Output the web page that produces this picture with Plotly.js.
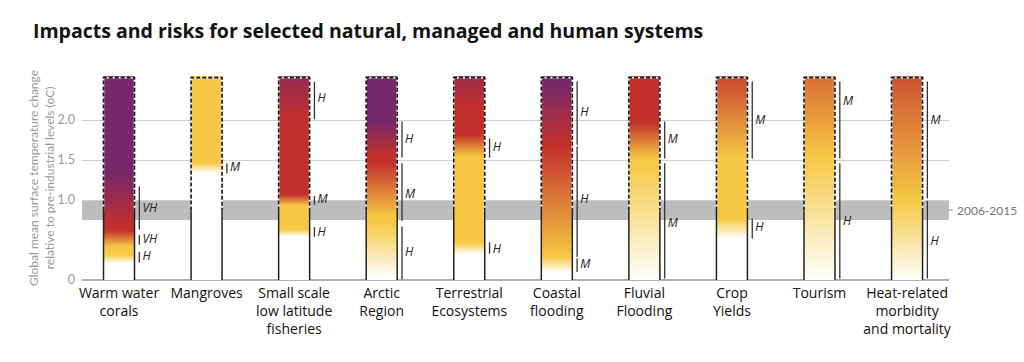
<!DOCTYPE html>
<html>
<head>
<meta charset="utf-8">
<script src="https://cdn.plot.ly/plotly-3.0.1.min.js"></script>
<style>html,body{margin:0;padding:0;background:#fff;}#chart{width:1024px;height:362px;}</style>
</head>
<body>
<div id="chart"></div>
<script>
// ---- Data ----
const systems = ['Warm water<br>corals', 'Mangroves', 'Small scale<br>low latitude<br>fisheries', 'Arctic<br>Region',
  'Terrestrial<br>Ecosystems', 'Coastal<br>flooding', 'Fluvial<br>Flooding', 'Crop<br>Yields', 'Tourism',
  'Heat-related<br>morbidity<br>and mortality'];

// Risk level along temperature: 0 undetectable (white), 1 moderate (yellow), 2 high (red), 3 very high (purple)
const riskStopTemps = [
  [0, 0.21, 0.32, 0.42, 0.62, 0.68, 1.35, 2.6],
  [0, 1.34, 1.47, 2.6],
  [0, 0.55, 0.64, 0.94, 1.08, 2.0, 2.6],
  [0, 0.02, 0.72, 0.8, 1.48, 1.55, 2.0, 2.6],
  [0, 0.33, 0.47, 1.55, 1.82, 2.15, 2.6],
  [0, 0.1, 0.3, 1.68, 1.72, 2.48, 2.6],
  [0, 1.46, 1.52, 1.98, 2.6],
  [0, 0.52, 0.77, 1.52, 2.6],
  [0, 1.55, 2.6],
  [0, 1.0, 2.6]
];
const riskStopLevels = [
  [0, 0, 1, 1, 2, 2, 3, 3],
  [0, 0, 1, 1],
  [0, 0, 1, 1, 2, 2, 2.65],
  [0, 0, 1, 1, 2, 2, 3, 3],
  [0, 0, 1, 1, 2, 2, 2.55],
  [0, 0, 1, 2, 2, 3, 3],
  [0, 1, 1, 2, 2],
  [0, 0, 1, 1, 1.9],
  [0, 1, 1.62],
  [0, 1, 1.8]
];

// Confidence segments
const confSystem = [0, 0, 0, 1, 2, 2, 2, 3, 3, 3, 4, 4, 5, 5, 5, 6, 6, 7, 7, 8, 8, 9, 9];
const confLow    = [0.63, 0.44, 0.22, 1.33, 2.01, 0.94, 0.54, 1.53, 0.74, 0.01, 1.53, 0.33, 1.69, 0.29, 0.10, 1.52, 0.02, 1.52, 0.52, 1.52, 0.02, 1.02, 0.02];
const confHigh   = [1.17, 0.56, 0.35, 1.46, 2.48, 1.05, 0.66, 1.98, 1.46, 0.67, 1.77, 0.47, 2.48, 1.67, 0.27, 1.98, 1.46, 2.48, 0.77, 2.48, 1.46, 2.48, 0.99];
const confLabel  = ['VH', 'VH', 'H', 'M', 'H', 'M', 'H', 'H', 'M', 'H', 'H', 'H', 'H', 'H', 'M', 'M', 'M', 'M', 'H', 'M', 'H', 'M', 'H'];
const confLabelY = [0.89, 0.50, 0.29, 1.40, 2.26, 1.00, 0.59, 1.75, 1.06, 0.34, 1.65, 0.38, 2.09, 1.00, 0.19, 1.75, 0.70, 1.99, 0.65, 2.22, 0.73, 1.99, 0.48];

const yTicks = [0, 1.0, 1.5, 2.0];
const yTickText = ['0', '1.0', '1.5', '2.0'];
const observedRange = [0.75, 1.0];   // 2006-2015
const observedMean = 0.87;
const assessedTop = 2.53;
const bandLabel = '2006-2015';

// ---- Styling ----
const W = 0.354;          // bar width (category units)
const confOffset = 0.055;
const labelOffset = 0.035;
const colors = {white: '#ffffff', yellow: '#f6c843', red: '#c3302c', purple: '#76286b'};
const FONT = 'Lato, "Open Sans", sans-serif';
const FONT2 = '"Open Sans", Lato, sans-serif';

const traces = [];
systems.forEach((s, i) => {
  const temps = riskStopTemps[i];
  const z = riskStopLevels[i].map(v => [v, v]);
  traces.push({
    type: 'heatmap', x: [i - W / 4, i + W / 4], y: temps, z: z,
    zmin: 0, zmax: 3, zsmooth: 'best', showscale: false, hoverinfo: 'skip',
    colorscale: [[0, colors.white], [1 / 3, colors.yellow], [2 / 3, colors.red], [1, colors.purple]]
  });
});

// outlines
const dx = [], dy = [], sx = [], sy = [];
systems.forEach((s, i) => {
  const l = i - W / 2, r = i + W / 2;
  dx.push(l, l, r, r, null); dy.push(observedMean, assessedTop, assessedTop, observedMean, null);
  sx.push(l, l, null, r, r, null); sy.push(0, observedMean, null, 0, observedMean, null);
});
traces.push({type: 'scatter', mode: 'lines', x: dx, y: dy, line: {color: '#ffffff', width: 1.6}, hoverinfo: 'skip', cliponaxis: false});
traces.push({type: 'scatter', mode: 'lines', x: dx, y: dy, line: {color: '#111', width: 1.6, dash: '4px,2px'}, hoverinfo: 'skip', cliponaxis: false});
traces.push({type: 'scatter', mode: 'lines', x: sx, y: sy, line: {color: '#222', width: 1.5}, hoverinfo: 'skip', cliponaxis: false});

// confidence
const cx = [], cy = [], tx = [], ty = [], tt = [];
confSystem.forEach((k, j) => {
  const x = k + W / 2 + confOffset;
  cx.push(x, x, null); cy.push(confLow[j], confHigh[j], null);
  tx.push(x + labelOffset); ty.push(confLabelY[j]); tt.push('<i>' + confLabel[j] + '</i>');
});
traces.push({type: 'scatter', mode: 'lines', x: cx, y: cy, line: {color: '#333', width: 1.3}, hoverinfo: 'skip', cliponaxis: false});
traces.push({type: 'scatter', mode: 'text', x: tx, y: ty, text: tt, textposition: 'middle right',
  textfont: {family: FONT2, size: 12, color: '#222'}, hoverinfo: 'skip', cliponaxis: false});

const layout = {
  width: 1024, height: 362,
  margin: {l: 82, r: 75, t: 76, b: 82},
  paper_bgcolor: '#fff', plot_bgcolor: '#fff',
  showlegend: false,
  font: {family: FONT},
  title: {
    text: 'Impacts and risks for selected natural, managed and human systems',
    font: {family: FONT2, size: 19.5, weight: 'bold', color: '#111'},
    xref: 'container', x: 33 / 1024, xanchor: 'left',
    yref: 'container', y: 1 - 31 / 362, yanchor: 'middle'
  },
  xaxis: {
    type: 'linear', range: [-0.4226, 9.479], tickvals: systems.map((s, i) => i), ticktext: systems,
    showgrid: false, zeroline: false, showline: false, ticks: '', ticklabelstandoff: 3,
    tickfont: {family: FONT2, size: 14, color: '#111'}, fixedrange: true
  },
  yaxis: {
    range: [0, 2.55], tickvals: yTicks, ticktext: yTickText,
    showgrid: true, gridcolor: '#d0d0d0', gridwidth: 1,
    zeroline: true, zerolinecolor: '#b0b0b0', zerolinewidth: 1.5,
    showline: false, ticks: '', ticklabelstandoff: 6,
    tickfont: {family: FONT, size: 12.5, color: '#999'},
    title: {text: 'Global mean surface temperature change<br>relative to pre-industrial levels (oC)',
      font: {family: FONT, size: 12, color: '#999'}, standoff: 0},
    fixedrange: true
  },
  shapes: [
    {type: 'rect', layer: 'below', xref: 'paper', yref: 'y', x0: 0, x1: 1, y0: observedRange[0], y1: observedRange[1],
      fillcolor: '#bdbdbd', line: {width: 0}},
    {type: 'line', xref: 'paper', yref: 'y', x0: 1, x1: 1.005, y0: (observedRange[0] + observedRange[1]) / 2, y1: (observedRange[0] + observedRange[1]) / 2,
      line: {color: '#999', width: 1}}
  ],
  annotations: [
    {xref: 'paper', yref: 'y', x: 1.007, y: (observedRange[0] + observedRange[1]) / 2, xanchor: 'left', yanchor: 'middle',
      text: bandLabel, showarrow: false, font: {family: FONT, size: 12, color: '#777'}}
  ]
};

Plotly.newPlot('chart', traces, layout, {displayModeBar: false, staticPlot: true});
</script>
</body>
</html>
